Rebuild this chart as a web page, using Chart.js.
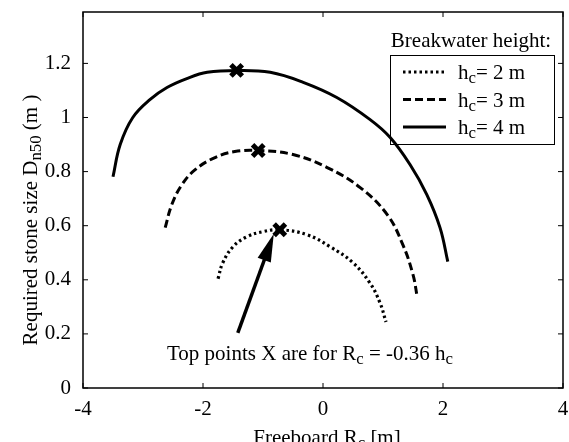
<!DOCTYPE html>
<html>
<head>
<meta charset="utf-8">
<script src="https://cdn.jsdelivr.net/npm/chart.js@4/dist/chart.umd.min.js"></script>
<style>
	body { margin: 0; background: #fff; overflow: hidden; }
	canvas { display: block; }
</style>
</head>
<body>
<canvas id="myChart" width="569" height="442"></canvas>
<script>
// freeboard Rc [m] and stone size Dn50 [m]
const rc2 = [-1.75, -1.67, -1.5, -1.27, -1.0, -0.72, -0.27, 0.12, 0.5, 0.78, 0.95, 1.05]
const dn2 = [0.404, 0.463, 0.522, 0.559, 0.578, 0.585, 0.567, 0.522, 0.463, 0.389, 0.315, 0.244]

const rc3 = [-2.63, -2.52, -2.35, -2.13, -1.8, -1.47, -1.08, -0.5, 0.07, 0.62, 1.07, 1.33, 1.5, 1.57]
const dn3 = [0.593, 0.678, 0.752, 0.807, 0.852, 0.874, 0.878, 0.863, 0.815, 0.741, 0.641, 0.53, 0.419, 0.337]

const rc4 = [-3.5, -3.38, -3.17, -2.88, -2.6, -2.27, -1.93, -1.43, -0.88, -0.33, 0.23, 0.78, 1.12, 1.45, 1.73, 1.95, 2.08]
const dn4 = [0.781, 0.9, 1.0, 1.067, 1.111, 1.144, 1.167, 1.174, 1.167, 1.13, 1.074, 0.993, 0.926, 0.826, 0.715, 0.593, 0.467]

// top points X (Rc = -0.36 hc)
const topRc = [-0.72, -1.08, -1.44]
const topDn = [0.585, 0.878, 1.174]

const legendLabels = ['2', '3', '4']
const xTicks = [-4, -2, 0, 2, 4]
const yTicks = [0, 0.2, 0.4, 0.6, 0.8, 1, 1.2]

// arrow pointing at the lowest top point, in data units
const arrowFrom = [-1.42, 0.204]
const arrowTo = [-0.82, 0.57]

const FONT = '"Liberation Serif", "Times New Roman", serif'
const FS = 21
const toPts = (xs, ys) => xs.map((x, i) => ({ x: x, y: ys[i] }))

// text with subscripts: parts = [[text, isSub], ...]
function richWidth(ctx, parts, size) {
	let w = 0
	parts.forEach((p) => {
		ctx.font = (p[1] ? size * 0.8 : size) + 'px ' + FONT
		w += ctx.measureText(p[0]).width
	})
	return w
}
function drawRich(ctx, parts, x, y, size, align) {
	let w = richWidth(ctx, parts, size)
	let cx = align === 'center' ? x - w / 2 : align === 'right' ? x - w : x
	ctx.textBaseline = 'alphabetic'
	ctx.textAlign = 'left'
	parts.forEach((p) => {
		ctx.font = (p[1] ? size * 0.8 : size) + 'px ' + FONT
		ctx.fillText(p[0], cx, p[1] ? y + size * 0.2 : y)
		cx += ctx.measureText(p[0]).width
	})
}

const dashes = [[2.5, 3], [8, 4], []]

const extras = {
	id: 'extras',
	afterDraw(chart) {
		const ctx = chart.ctx
		const a = chart.chartArea
		const xs = chart.scales.x
		const ys = chart.scales.y
		ctx.save()
		ctx.fillStyle = '#000'
		ctx.strokeStyle = '#000'

		// frame and inward ticks
		ctx.lineWidth = 1.5
		ctx.strokeRect(a.left, a.top, a.right - a.left, a.bottom - a.top)
		ctx.lineWidth = 1
		ctx.beginPath()
		xTicks.forEach((v) => {
			let px = xs.getPixelForValue(v)
			ctx.moveTo(px, a.bottom); ctx.lineTo(px, a.bottom - 5)
			ctx.moveTo(px, a.top); ctx.lineTo(px, a.top + 5)
		})
		yTicks.forEach((v) => {
			let py = ys.getPixelForValue(v)
			ctx.moveTo(a.left, py); ctx.lineTo(a.left + 5, py)
			ctx.moveTo(a.right, py); ctx.lineTo(a.right - 5, py)
		})
		ctx.stroke()

		// x tick labels (drawn here so the last one may run off the edge)
		ctx.font = FS + 'px ' + FONT
		ctx.textAlign = 'center'
		ctx.textBaseline = 'middle'
		xTicks.forEach((v) => {
			ctx.fillText(String(v), xs.getPixelForValue(v), a.bottom + 21)
		})

		// axis titles
		drawRich(ctx, [['Freeboard R', false], ['c', true], [' [m]', false]], 327, 444, FS, 'center')
		ctx.save()
		ctx.translate(37, 220)
		ctx.rotate(-Math.PI / 2)
		drawRich(ctx, [['Required stone size D', false], ['n50', true], [' (m )', false]], 0, 0, FS, 'center')
		ctx.restore()

		// arrow
		let x1 = xs.getPixelForValue(arrowFrom[0]), y1 = ys.getPixelForValue(arrowFrom[1])
		let x2 = xs.getPixelForValue(arrowTo[0]), y2 = ys.getPixelForValue(arrowTo[1])
		let ang = Math.atan2(y2 - y1, x2 - x1)
		ctx.lineWidth = 3.5
		ctx.beginPath()
		ctx.moveTo(x1, y1)
		ctx.lineTo(x2 - 18 * Math.cos(ang), y2 - 18 * Math.sin(ang))
		ctx.stroke()
		ctx.beginPath()
		ctx.moveTo(x2, y2)
		ctx.lineTo(x2 - 28 * Math.cos(ang) + 7 * Math.sin(ang), y2 - 28 * Math.sin(ang) - 7 * Math.cos(ang))
		ctx.lineTo(x2 - 28 * Math.cos(ang) - 7 * Math.sin(ang), y2 - 28 * Math.sin(ang) + 7 * Math.cos(ang))
		ctx.closePath()
		ctx.fill()

		// annotation
		drawRich(ctx, [['Top points X are for R', false], ['c', true], [' = -0.36 h', false], ['c', true]], 310, 360, FS, 'center')

		// legend
		drawRich(ctx, [['Breakwater height:', false]], 471, 47, FS, 'center')
		ctx.lineWidth = 1
		ctx.strokeRect(390.5, 55.5, 164, 89)
		legendLabels.forEach((h, i) => {
			let yy = 72 + i * 27.5
			ctx.lineWidth = 3
			ctx.setLineDash(dashes[i])
			ctx.beginPath()
			ctx.moveTo(403, yy)
			ctx.lineTo(446, yy)
			ctx.stroke()
			ctx.setLineDash([])
			drawRich(ctx, [['h', false], ['c', true], ['= ' + h + ' m', false]], 458, yy + 7, FS, 'left')
		})
		ctx.restore()
	},
}

function noPad(s) {
	s.paddingLeft = 0
	s.paddingRight = 0
	s.paddingTop = 0
	s.paddingBottom = 0
}

var ctx = document.getElementById('myChart').getContext('2d')
var myChart = new Chart(ctx, {
	type: 'scatter',
	data: {
		datasets: [
			{ data: toPts(rc2, dn2), showLine: true, borderColor: '#000', borderWidth: 3.2, borderDash: dashes[0], pointRadius: 0, tension: 0.4 },
			{ data: toPts(rc3, dn3), showLine: true, borderColor: '#000', borderWidth: 3, borderDash: dashes[1], pointRadius: 0, tension: 0.4 },
			{ data: toPts(rc4, dn4), showLine: true, borderColor: '#000', borderWidth: 3, borderDash: dashes[2], pointRadius: 0, tension: 0.4 },
			{ data: toPts(topRc, topDn), showLine: false, pointStyle: 'crossRot', pointRadius: 8, borderWidth: 5, borderColor: '#000', backgroundColor: '#000' },
		],
	},
	options: {
		responsive: false,
		animation: false,
		layout: { autoPadding: false, padding: { top: 12, right: 6, left: 0, bottom: 0 } },
		plugins: { legend: { display: false }, tooltip: { enabled: false } },
		scales: {
			x: {
				min: -4,
				max: 4,
				grid: { display: false },
				border: { display: false },
				afterBuildTicks: (s) => { s.ticks = xTicks.map((v) => ({ value: v })) },
				afterFit: (s) => { s.height = 54; noPad(s) },
				ticks: { display: false },
			},
			y: {
				min: 0,
				max: 1.39,
				grid: { display: false },
				border: { display: false },
				afterBuildTicks: (s) => { s.ticks = yTicks.map((v) => ({ value: v })) },
				afterFit: (s) => { s.width = 83; noPad(s) },
				ticks: { color: '#000', font: { family: FONT, size: FS }, padding: 4, callback: (v) => String(v) },
			},
		},
	},
	plugins: [extras],
})
</script>
</body>
</html>
